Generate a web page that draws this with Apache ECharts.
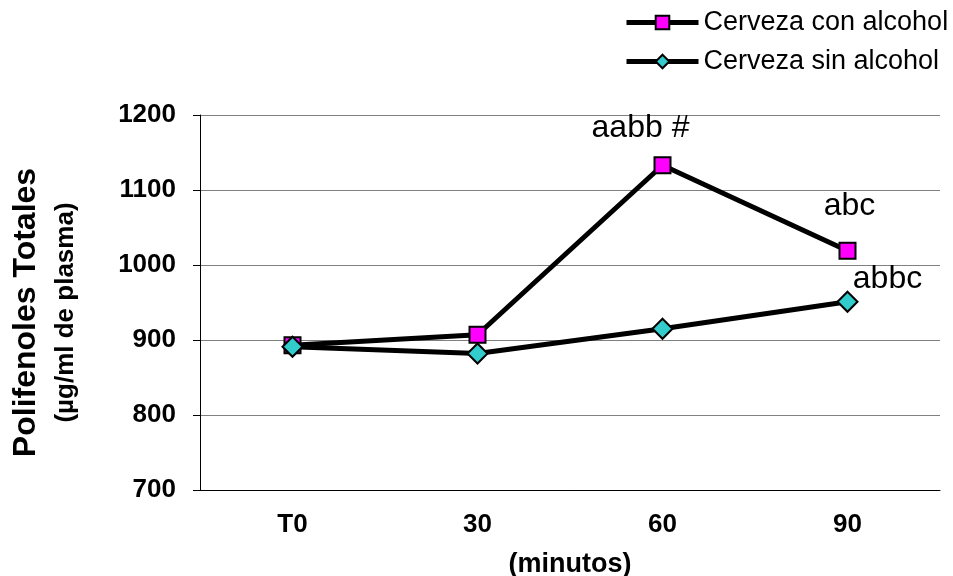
<!DOCTYPE html>
<html>
<head>
<meta charset="utf-8">
<script src="https://cdn.jsdelivr.net/npm/echarts@6/dist/echarts.min.js"></script>
<style>
  html, body { margin: 0; padding: 0; background: #fff; }
  #main { width: 953px; height: 576px; }
</style>
</head>
<body>
<div id="main"></div>
<script>
// datos
var categorias = ['T0', '30', '60', '90'];
var conAlcohol = [893, 907, 1133, 1019];
var sinAlcohol = [891, 882, 915, 951];
var etiquetasCon = ['', '', 'aabb #', 'abc'];
var etiquetasSin = ['', '', '', 'abbc'];

(function draw() {
    var myChart = echarts.init(document.getElementById('main'));

    // puntos con anotación de texto encima
    function puntos(valores, etiquetas, offsets) {
        return valores.map(function (v, i) {
            if (!etiquetas[i]) return v;
            return {
                value: v,
                label: {
                    show: true,
                    formatter: etiquetas[i],
                    position: 'inside',
                    offset: offsets[i],
                    color: '#000',
                    fontSize: 32,
                    fontFamily: 'Liberation Sans, Arial, sans-serif'
                }
            };
        });
    }

    var option = {
        animation: false,
        backgroundColor: '#fff',
        textStyle: { fontFamily: 'Liberation Sans, Arial, sans-serif' },
        legend: {
            orient: 'vertical',
            left: 624,
            top: 9,
            padding: 0,
            itemWidth: 72,
            itemHeight: 17,
            itemGap: 12,
            lineStyle: { width: 5, color: '#000' },
            textStyle: { fontSize: 27, color: '#000' },
            data: ['Cerveza con alcohol', 'Cerveza sin alcohol']
        },
        grid: { left: 200, right: 13, top: 115, bottom: 86, outerBoundsMode: 'none' },
        xAxis: {
            type: 'category',
            data: categorias,
            boundaryGap: true,
            name: '(minutos)',
            nameLocation: 'middle',
            nameGap: 61,
            nameTextStyle: { fontSize: 27, fontWeight: 'bold', color: '#000' },
            axisLine: { lineStyle: { color: '#000', width: 1 } },
            axisTick: { show: false },
            axisLabel: { fontSize: 26, fontWeight: 'bold', color: '#000', margin: 22 }
        },
        yAxis: {
            type: 'value',
            min: 700,
            max: 1200,
            interval: 100,
            name: '{a|Polifenoles Totales}\n{b|(µg/ml de plasma)}',
            nameLocation: 'middle',
            nameGap: 116,
            nameRotate: 90,
            nameTextStyle: {
                padding: [0, 20, 0, 0],
                rich: {
                    a: { fontSize: 32, fontWeight: 'bold', color: '#000', lineHeight: 44 },
                    b: { fontSize: 26, fontWeight: 'bold', color: '#000', lineHeight: 36 }
                }
            },
            axisLine: { show: true, lineStyle: { color: '#000', width: 1 } },
            axisTick: { show: true, length: 7, lineStyle: { color: '#000' } },
            axisLabel: {
                fontSize: 26, fontWeight: 'bold', color: '#000', margin: 24,
                formatter: function (v) { return String(v); }
            },
            splitLine: { lineStyle: { color: '#808080', width: 1 } }
        },
        series: [
            {
                name: 'Cerveza con alcohol',
                type: 'line',
                data: puntos(conAlcohol, etiquetasCon, [null, null, [-22, -37], [2, -45]]),
                symbol: 'rect',
                symbolSize: 16,
                lineStyle: { color: '#000', width: 5 },
                itemStyle: { color: '#FF00FF', borderColor: '#000', borderWidth: 2 },
                z: 2
            },
            {
                name: 'Cerveza sin alcohol',
                type: 'line',
                data: puntos(sinAlcohol, etiquetasSin, [null, null, null, [40, -23]]),
                symbol: 'diamond',
                symbolSize: 20,
                lineStyle: { color: '#000', width: 5 },
                itemStyle: { color: '#33CCCC', borderColor: '#000', borderWidth: 2 },
                z: 3
            }
        ]
    };
    myChart.setOption(option);
})();
</script>
</body>
</html>
